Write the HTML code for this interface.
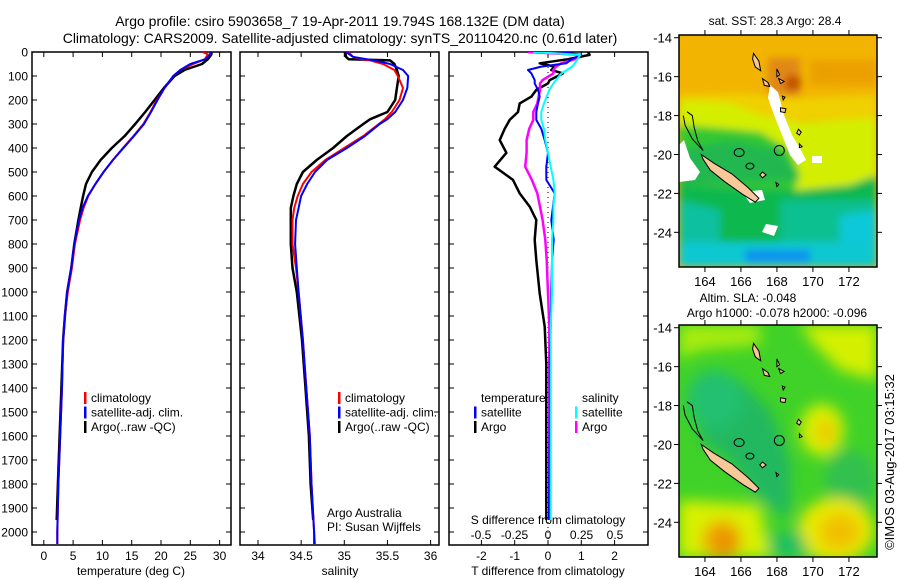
<!DOCTYPE html>
<html><head><meta charset="utf-8"><style>
html,body{margin:0;padding:0;background:#fff;}
svg{display:block;font-family:"Liberation Sans",sans-serif;}
</style></head><body>
<svg id="fig" width="900" height="580" viewBox="0 0 900 580">
<defs>
<clipPath id="c1"><rect x="32" y="52" width="199" height="493"/></clipPath>
<clipPath id="c2"><rect x="240" y="52" width="199" height="493"/></clipPath>
<clipPath id="c3"><rect x="449" y="52" width="199" height="493"/></clipPath>
<clipPath id="m1"><rect x="679" y="35" width="198" height="232"/></clipPath>
<clipPath id="m2"><rect x="679" y="325" width="198" height="232"/></clipPath>
<filter id="bl" x="-20%" y="-20%" width="140%" height="140%"><feGaussianBlur stdDeviation="4"/></filter>
<filter id="bl2" x="-20%" y="-20%" width="140%" height="140%"><feGaussianBlur stdDeviation="7"/></filter>
</defs>
<text x="340" y="26" font-size="14" text-anchor="middle">Argo profile: csiro 5903658_7 19-Apr-2011 19.794S 168.132E (DM data)</text>
<text x="340" y="43" font-size="14" text-anchor="middle">Climatology: CARS2009. Satellite-adjusted climatology: synTS_20110420.nc (0.61d later)</text>
<g id="panels"></g>

<!-- Map 1 SST -->
<g>
<g clip-path="url(#m1)">
<rect x="679" y="35" width="198" height="232" fill="#f2b400"/>
<g filter="url(#bl)">
<polygon points="679,95 740,93 790,98 877,95 877,120 679,120" fill="#f0d000"/>
<polygon points="679,100 730,103 760,115 800,122 877,118 877,200 679,200" fill="#d4ee00"/>
<polygon points="679,125 720,128 760,132 790,150 800,175 790,200 679,205" fill="#30c830"/>
<polygon points="679,150 730,140 780,150 800,180 679,185" fill="#20b850"/>
<polygon points="679,185 760,190 800,190 850,185 877,175 877,267 679,267" fill="#10b850"/>
<polygon points="679,200 720,210 720,267 679,267" fill="#10c0a0"/>
<polygon points="780,200 877,200 877,267 780,267" fill="#10c090"/>
<polygon points="840,215 877,210 877,250 840,250" fill="#10c8d8"/>
<polygon points="679,242 877,242 877,267 679,267" fill="#10c8d0"/>
<polygon points="745,250 810,250 810,262 745,262" fill="#1090f0"/>
<polygon points="768,58 800,58 800,96 768,96" fill="#e08818"/>
<ellipse cx="793" cy="83" rx="8" ry="8" fill="#c05000"/>
<polygon points="810,60 877,60 877,85 810,85" fill="#eba000"/>
</g>
<polygon points="679,145 684,140 690,158 700,172 695,180 679,182" fill="#fff"/>
<polygon points="770,85 778,92 784,115 792,135 800,148 806,160 798,165 790,155 782,135 774,115 768,98" fill="#fff"/>
<polygon points="742,192 762,190 765,200 750,203" fill="#fff"/>
<polygon points="812,156 822,156 822,163 812,163" fill="#fff"/>
<polygon points="766,224 778,226 774,236 762,232" fill="#fff"/>
</g>
</g>
<g id="map1ov"></g>

<!-- Map 2 SLA -->
<g>
<g clip-path="url(#m2)">
<rect x="679" y="325" width="198" height="232" fill="#40d228"/>
<g filter="url(#bl2)">
<polygon points="679,325 760,325 760,345 700,350 679,360" fill="#a8ec10"/>
<polygon points="800,325 877,325 877,380 840,370 815,345" fill="#d4f000"/>
<polygon points="700,400 740,380 770,410 790,460 790,520 760,500 730,460 700,440" fill="#20b860"/>
<ellipse cx="715" cy="400" rx="28" ry="30" fill="#20c070"/>
<ellipse cx="850" cy="480" rx="25" ry="30" fill="#30c050"/>
<ellipse cx="822" cy="430" rx="22" ry="26" fill="#d8ef00"/>
<ellipse cx="826" cy="432" rx="10" ry="12" fill="#f0c800"/>
<polygon points="679,500 760,505 770,557 679,557" fill="#d8f000"/>
<ellipse cx="722" cy="540" rx="20" ry="20" fill="#f0a800"/>
<ellipse cx="725" cy="541" rx="10" ry="12" fill="#e89000"/>
<ellipse cx="836" cy="530" rx="38" ry="32" fill="#e8e800"/>
<ellipse cx="840" cy="532" rx="20" ry="18" fill="#f0c000"/>
<polygon points="770,535 800,530 810,557 770,557" fill="#20c060"/>
</g>
</g>
</g>
<g id="map2ov"></g>
<text transform="translate(894,462) rotate(-90)" font-size="13" text-anchor="middle">©IMOS 03-Aug-2017 03:15:32</text>
</svg>
<script>
// ---------- data ----------
const tDepth = [0,10,30,50,75,100,150,200,250,300,350,400,450,500,550,600,650,700,800,900,1000,1100,1200,1400,1600,1800,2000,2050];
const tClim = [27.1,28.0,27.5,25.5,23.3,22.1,20.6,19.3,18.2,17.0,15.3,13.5,11.8,10.2,8.8,7.6,6.8,6.2,5.3,4.8,4.1,3.6,3.3,3.1,2.8,2.5,2.3,2.3];
const tSat = [28.4,28.4,27.6,25.0,23.3,22.1,20.6,19.4,18.3,17.1,15.4,13.6,11.8,10.2,8.8,7.5,6.6,6.0,5.2,4.7,4.0,3.6,3.3,3.1,2.8,2.5,2.3,2.3];
const aDepthT = [0,10,30,50,75,100,150,200,250,300,350,400,450,500,550,600,650,700,800,900,1000,1100,1200,1400,1600,1800,1950];
const tArgo = [28.6,28.6,28.0,27.0,24.0,22.3,20.5,18.9,17.3,15.6,13.8,11.6,9.7,8.2,7.2,6.7,6.3,5.9,5.2,4.7,4.0,3.6,3.3,3.0,2.7,2.4,2.2];
const sDepth = [0,20,30,35,50,75,100,150,200,250,280,300,350,400,450,500,550,600,650,700,800,900,1000,1200,1400,1600,1800,2000,2050];
const sClim = [35.05,35.1,35.2,35.3,35.45,35.58,35.62,35.68,35.64,35.55,35.47,35.4,35.22,35.0,34.78,34.62,34.52,34.46,34.42,34.4,34.4,34.44,34.47,34.52,34.56,34.6,34.62,34.65,34.66];
const sSat = [35.02,35.1,35.26,35.35,35.53,35.68,35.74,35.73,35.68,35.59,35.5,35.41,35.24,35.03,34.8,34.66,34.57,34.5,34.47,34.44,34.43,34.45,34.47,34.52,34.56,34.6,34.62,34.65,34.65];
const aDepthS = [0,20,30,35,50,75,100,150,200,250,280,300,350,400,450,500,550,600,650,700,800,900,1000,1200,1400,1600,1800,1950];
const sArgo = [35.01,35.02,35.05,35.53,35.58,35.61,35.63,35.61,35.59,35.5,35.3,35.22,35.03,34.87,34.68,34.52,34.45,34.41,34.38,34.38,34.38,34.4,34.45,34.51,34.55,34.59,34.61,34.64];
const dDepth = [0,12,30,47,61,75,89,117,131,158,186,214,250,283,320,367,420,478,533,589,644,700,783,867,1006,1144,1300,1500,1700,1950];
const dTArgo = [1.2,1.25,0.6,-0.25,0.2,0.1,0.45,0.05,0.0,-0.35,-0.5,-0.85,-0.9,-1.15,-1.3,-1.45,-1.25,-1.6,-1.05,-0.85,-0.55,-0.35,-0.4,-0.35,-0.25,-0.1,-0.05,-0.05,-0.05,-0.05];
const dTSat = [0.4,1.0,0.7,0.55,-0.2,-0.6,-0.5,-0.4,-0.4,-0.3,-0.25,-0.3,-0.35,-0.35,-0.2,-0.1,0,-0.05,-0.05,0.2,0.15,0.1,0.17,0.12,0.1,0.08,0.05,0.05,0.04,0.03];
const dSSat = [-0.11,0.24,0.22,0.2,0.18,0.14,0.1,0.06,0.04,0.01,-0.01,-0.03,-0.05,-0.05,-0.03,-0.02,0.0,0.02,0.04,0.05,0.04,0.04,0.03,0.03,0.03,0.02,0.02,0.02,0.02,0.02];
const dSArgo = [-0.15,0.24,0.2,0.1,0.06,0.04,0.04,-0.04,-0.06,-0.06,-0.07,-0.08,-0.11,-0.11,-0.14,-0.16,-0.16,-0.17,-0.12,-0.08,-0.06,-0.04,-0.02,-0.01,0,0.01,0.01,0.01,0.01,0.01];
const depthTicks = [0,100,200,300,400,500,600,700,800,900,1000,1100,1200,1300,1400,1500,1600,1700,1800,1900,2000];
const tTicks = [0,5,10,15,20,25,30];
const sTicks = [34,34.5,35,35.5,36];
const sTickLabels = ['34','34.5','35','35.5','36'];
const dtTicks = [-2,-1,0,1,2];
const dsTicks = [-0.5,-0.25,0,0.25,0.5];
const dsTickLabels = ['-0.5','-0.25','0','0.25','0.5'];
const latTicks = [-14,-16,-18,-20,-22,-24];
const lonTicks = [164,166,168,170,172];

// ---------- axes ----------
const NS='http://www.w3.org/2000/svg';
const panels=document.getElementById('panels');
const yD = d => 52 + d*0.24;
const xT = t => 43.8 + t*5.86;
const xS = s => 258 + (s-34)*86.3;
const xDT = v => 548 + v*33.3;
const xDS = v => 548 + v*134;
function el(tag,attrs,parent){const e=document.createElementNS(NS,tag);for(const k in attrs)e.setAttribute(k,attrs[k]);(parent||panels).appendChild(e);return e;}
function txt(x,y,s,size,anchor,parent){const e=el('text',{x:x,y:y,'font-size':size,'text-anchor':anchor||'start'},parent);e.textContent=s;return e;}
function line(x1,y1,x2,y2,c,w,parent){return el('line',{x1:x1,y1:y1,x2:x2,y2:y2,stroke:c||'#000','stroke-width':w||1},parent);}
function series(xs,ds,xf,color,w,clip,name){
  const pts=xs.map((v,i)=>xf(v).toFixed(1)+','+yD(ds[i]).toFixed(1)).join(' ');
  const p=el('polyline',{points:pts,fill:'none',stroke:color,'stroke-width':w,'clip-path':'url(#'+clip+')','stroke-linejoin':'round'});
  
  
}
const boxes=[[32,'c1'],[240,'c2'],[449,'c3']];
boxes.forEach(([x0,c],i)=>{
  const r=el('rect',{x:x0,y:52,width:199,height:493,fill:'none',stroke:'#000','stroke-width':1.5});
  
  
  depthTicks.forEach(d=>{line(x0,yD(d),x0+5,yD(d));line(x0+199,yD(d),x0+194,yD(d));});
});
depthTicks.forEach(d=>{const t=txt(28,yD(d)+4.5,String(d),12,'end');
  
  });
tTicks.forEach(v=>{line(xT(v),52,xT(v),57);line(xT(v),545,xT(v),540);const t=txt(xT(v),560,String(v),12,'middle');
  
  });
sTicks.forEach((v,i)=>{line(xS(v),52,xS(v),57);line(xS(v),545,xS(v),540);const t=txt(xS(v),560,sTickLabels[i],12,'middle');
  
  });
dtTicks.forEach(v=>{line(xDT(v),52,xDT(v),57);line(xDT(v),545,xDT(v),540);const t=txt(xDT(v),560,String(v),12,'middle');
  
  });
dsTicks.forEach((v,i)=>{const t=txt(xDS(v),539,dsTickLabels[i],12,'middle');
  
  });
[[131,'temperature (deg C)','x-axis-title-temperature'],[340,'salinity','x-axis-title-salinity'],[548,'T difference from climatology','x-axis-title-t-diff']].forEach(([x,s,n])=>{
  const t=txt(x,575,s,12,'middle');
  
  });
const sd=txt(548,524,'S difference from climatology',12,'middle');


el('line',{x1:548,y1:52,x2:548,y2:545,stroke:'#000','stroke-width':1,'stroke-dasharray':'1 4'});

// series
series(tArgo,aDepthT,xT,'#000',2.5,'c1','temperature-argo-line');
series(tClim,tDepth,xT,'#f00',2,'c1','temperature-climatology-line');
series(tSat,tDepth,xT,'#00f',2,'c1','temperature-satellite-line');
series(sArgo,aDepthS,xS,'#000',2.5,'c2','salinity-argo-line');
series(sClim,sDepth,xS,'#f00',2,'c2','salinity-climatology-line');
series(sSat,sDepth,xS,'#00f',2,'c2','salinity-satellite-line');
series(dTArgo,dDepth,xDT,'#000',2.5,'c3','t-diff-argo-line');
series(dSArgo,dDepth,xDS,'#f0f',2.5,'c3','s-diff-argo-line');
series(dTSat,dDepth,xDT,'#00f',2,'c3','t-diff-satellite-line');
series(dSSat,dDepth,xDS,'#0ff',2,'c3','s-diff-satellite-line');

// legends
function leg(x,y,c,s,name){el('rect',{x:x,y:y-10,width:2.5,height:12,fill:c});const t=txt(x+7,y,s,12,'start');
  
  }
[[84,'#f00','climatology'],[84,'#00f','satellite-adj. clim.'],[84,'#000','Argo(..raw -QC)']].forEach(([x,c,s],i)=>leg(x,402+i*14.5,c,s,'legend-temperature-'+i));
[[338,'#f00','climatology'],[338,'#00f','satellite-adj. clim.'],[338,'#000','Argo(..raw -QC)']].forEach(([x,c,s],i)=>leg(x,402+i*14.5,c,s,'legend-salinity-'+i));
let lt=txt(481,402,'temperature',12,'start');
lt=txt(582,402,'salinity',12,'start');
leg(474,416.5,'#00f','satellite','legend-diff-t-satellite');
leg(474,431,'#000','Argo','legend-diff-t-argo');
leg(575,416.5,'#0ff','satellite','legend-diff-s-satellite');
leg(575,431,'#f0f','Argo','legend-diff-s-argo');
lt=txt(327,517,'Argo Australia',12,'start');
lt=txt(327,531,'PI: Susan Wijffels',12,'start');

// ---------- maps ----------
function drawMap(gid,y0,titles){
  const g=document.getElementById(gid);
  const px=lon=>679+(lon-162.56)*18;
  const py=lat=>y0+(-13.86-lat)*19.46;
  const isl=(pts)=>el('polygon',{points:pts.map(p=>px(p[0]).toFixed(1)+','+py(p[1]).toFixed(1)).join(' '),fill:'#f8c898',stroke:'#000','stroke-width':1},g);
  isl([[163.8,-20.0],[164.5,-20.45],[165.5,-21.0],[166.4,-21.7],[167.0,-22.25],[166.8,-22.45],[166.1,-22.05],[165.1,-21.4],[164.3,-20.8],[163.9,-20.25]]);
  isl([[166.7,-14.8],[167.0,-15.2],[167.1,-15.7],[166.8,-15.5],[166.65,-15.1]]);
  isl([[167.2,-16.1],[167.5,-16.3],[167.6,-16.5],[167.3,-16.45]]);
  isl([[168.0,-15.6],[168.15,-15.9],[168.0,-16.0]]);
  isl([[168.1,-16.1],[168.4,-16.25],[168.2,-16.35]]);
  isl([[168.3,-17.0],[168.45,-17.05],[168.35,-17.2]]);
  isl([[168.2,-17.6],[168.5,-17.65],[168.45,-17.85],[168.2,-17.8]]);
  isl([[169.2,-18.7],[169.35,-18.85],[169.25,-19.0],[169.1,-18.9]]);
  isl([[169.25,-19.45],[169.4,-19.6],[169.25,-19.65]]);
  isl([[167.2,-20.9],[167.4,-21.05],[167.2,-21.2],[167.05,-21.05]]);
  isl([[167.95,-21.45],[168.1,-21.55],[168.0,-21.65]]);
  el('polyline',{points:[[163.0,-17.8],[163.3,-18.0],[163.4,-18.6],[163.6,-19.3],[163.9,-19.8],[163.3,-19.2],[162.9,-18.5],[162.8,-18.0]].map(p=>px(p[0])+','+py(p[1])).join(' '),fill:'none',stroke:'#000','stroke-width':1},g);
  el('ellipse',{cx:px(165.9),cy:py(-19.9),rx:5,ry:4,fill:'none',stroke:'#000','stroke-width':1},g);
  el('ellipse',{cx:px(166.5),cy:py(-20.6),rx:4,ry:3,fill:'none',stroke:'#000','stroke-width':1},g);
  const c=el('circle',{cx:px(168.132),cy:py(-19.794),r:5,fill:'none',stroke:'#000','stroke-width':1},g);
  
  
  const fr=el('rect',{x:679,y:y0,width:198,height:232,fill:'none',stroke:'#000','stroke-width':1.5},g);
  
  
  latTicks.forEach(v=>{line(674,py(v),679,py(v),'#000',1,g);line(877,py(v),882,py(v),'#000',1,g);const t=txt(672,py(v)+5,String(v),13,'end',g);
    
    });
  lonTicks.forEach(v=>{line(px(v),y0+232,px(v),y0+237,'#000',1,g);line(px(v),y0,px(v),y0-5,'#000',1,g);const t=txt(px(v),y0+251,String(v),13,'middle',g);
    
    });
  titles.forEach(([x,y,s],i)=>{const t=txt(x,y,s,12,'middle',g);
    
    });
}
drawMap('map1ov',35,[[775,25,'sat. SST: 28.3 Argo: 28.4']]);
drawMap('map2ov',325,[[748,302,'Altim. SLA: -0.048'],[777,317,'Argo h1000: -0.078 h2000: -0.096']]);
</script>
</body></html>
